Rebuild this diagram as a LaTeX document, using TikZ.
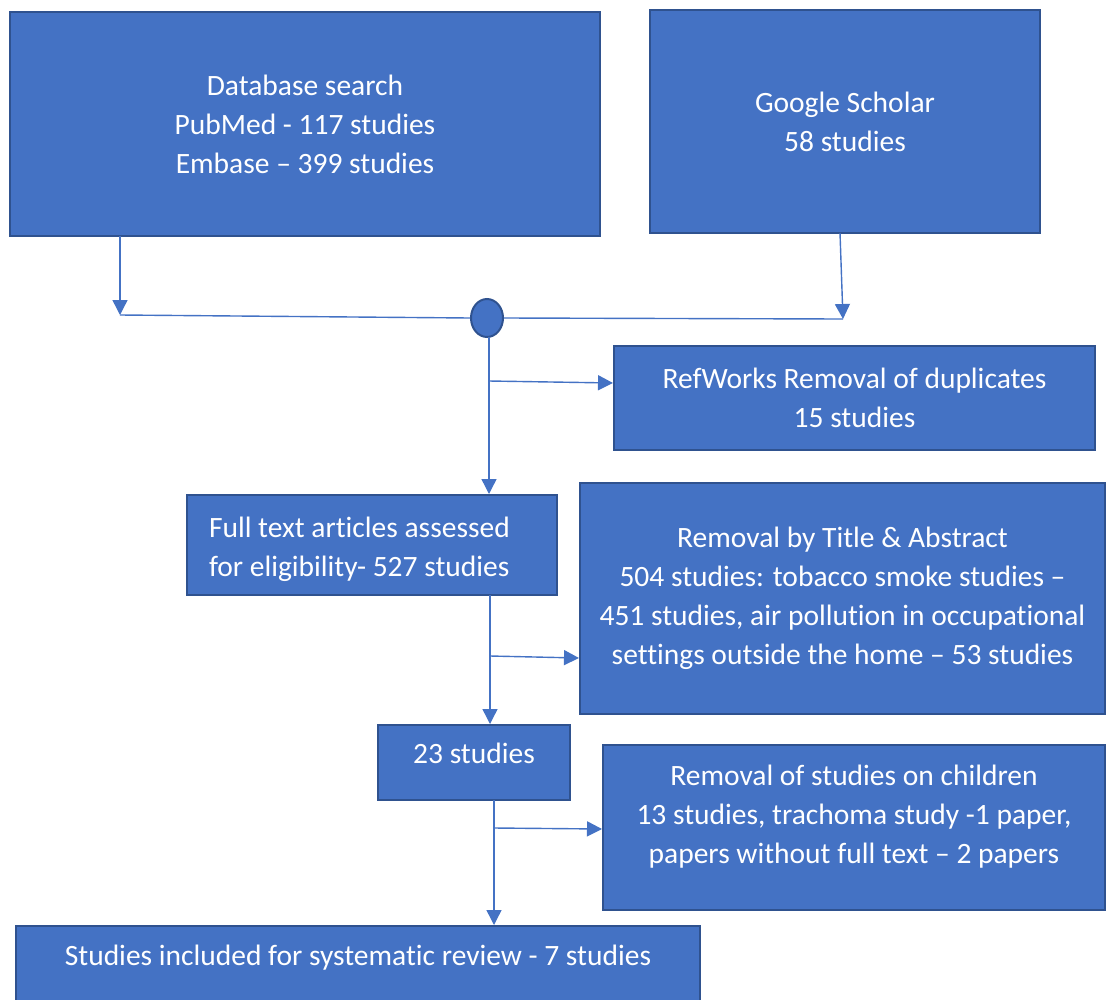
\documentclass[tikz,border=0pt]{standalone}
\usepackage{fontspec}
\setmainfont{Carlito}[Ligatures={NoCommon}]
\usetikzlibrary{arrows.meta,shapes.geometric}
\definecolor{boxfill}{HTML}{4472C4}
\definecolor{boxline}{HTML}{2F528F}
\definecolor{conn}{HTML}{4472C4}
\begin{document}
\begin{tikzpicture}[x=1pt,y=-1pt,
  box/.style={draw=boxline,line width=2pt,fill=boxfill,text=white,
    font=\fontsize{29.5}{39}\selectfont,align=center,inner sep=0pt},
  arr/.style={draw=conn,line width=1.4pt,-{Triangle[length=15pt,width=15pt]}},
  ln/.style={draw=conn,line width=1.4pt}]
\useasboundingbox (0,0) rectangle (1106,999);
\node[box,minimum width=590pt,minimum height=224pt] (db) at (305,124)
  {Database search\\PubMed - 117 studies\\Embase – 399 studies};
\node[box,minimum width=390pt,minimum height=223pt] (gs) at (845,121.5)
  {Google Scholar\\58 studies};
\node[draw=boxline,line width=2pt,fill=boxfill,ellipse,minimum width=32pt,minimum height=38pt,inner sep=0pt] (circ) at (487,318) {};
\node[box,minimum width=481pt,minimum height=104pt] (rw) at (854.5,398)
  {RefWorks Removal of duplicates\\15 studies};
\node[box,align=flush left,text width=326pt,inner xsep=22pt,minimum height=100pt] (ft) at (372,545)
  {{}\\[-9pt]Full text articles assessed\\for eligibility- 527 studies};
\node[box,minimum width=525pt,minimum height=231pt] (ta) at (842.5,598.5)
  {Removal by Title \& Abstract\\504 studies: tobacco smoke studies –\\451 studies, air pollution in occupational\\settings outside the home – 53 studies};
\node[box,minimum width=192pt,minimum height=75pt,text depth=19pt] (s23) at (474,762.5)
  {23 studies};
\node[box,minimum width=502pt,minimum height=165pt] (ch) at (854,827.5)
  {Removal of studies on children\\13 studies, trachoma study -1 paper,\\papers without full text – 2 papers\\[-12pt]{}};
\node[box,anchor=north,minimum width=684pt,minimum height=90pt,text depth=32pt] (inc) at (358,925)
  {Studies included for systematic review - 7 studies};
% coordinates
\coordinate (dbS) at (120,236);
\coordinate (jL) at (120,315);
\coordinate (gsS) at (840,233);
\coordinate (jR) at (843,319);
\coordinate (cS) at (489,337);
\coordinate (b1) at (489,381);
\coordinate (ftS) at (490,595);
\coordinate (b2) at (490,656);
\coordinate (sS) at (494,800);
\coordinate (b3) at (494,828);
% connectors
\draw[arr] (dbS) -- (jL);
\draw[ln] (jL) -- (circ.west);
\draw[arr] (gsS) -- (jR);
\draw[ln] (circ.east) -- (jR);
\draw[arr] (cS) -- (cS |- ft.north);
\draw[arr] (b1) -- (rw.west |- 0,383);
\draw[arr] (ftS) -- (ftS |- s23.north);
\draw[arr] (b2) -- (ta.west |- 0,658);
\draw[arr] (sS) -- (sS |- inc.north);
\draw[arr] (b3) -- (ch.west |- 0,829);
\end{tikzpicture}
\end{document}
